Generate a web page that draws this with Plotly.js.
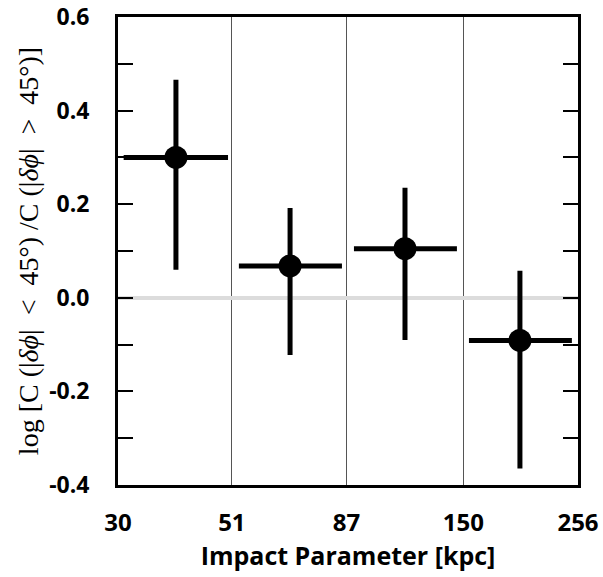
<!DOCTYPE html>
<html><head><meta charset="utf-8">
<script src="https://cdn.plot.ly/plotly-3.0.1.min.js"></script>
<style>body{margin:0;padding:0;background:#fff}</style>
</head><body>
<div id="chart" style="width:603px;height:577px"></div>
<script>
// Data
const impactParam = [39.3, 66.9, 114.3, 195.3];
const binLow = [30.8, 52.7, 90.1, 154.0];
const binHigh = [50.1, 85.2, 145.6, 248.8];
const logRatio = [0.300, 0.068, 0.105, -0.091];
const errUpper = [0.466, 0.192, 0.235, 0.058];
const errLower = [0.060, -0.122, -0.090, -0.365];
const xTickVals = [30, 51, 87, 150, 256];
const xTickText = ['30', '51', '87', '150', '256'];
const yTickVals = [-0.4, -0.2, 0.0, 0.2, 0.4, 0.6];
const yTickText = ['-0.4', '-0.2', '0.0', '0.2', '0.4', '0.6'];

const trace = {
  x: impactParam, y: logRatio, type: 'scatter', mode: 'markers',
  marker: {color: '#000', size: 23},
  error_x: {type: 'data', symmetric: false,
    array: impactParam.map((v, i) => binHigh[i] - v),
    arrayminus: impactParam.map((v, i) => v - binLow[i]),
    color: '#000', thickness: 5, width: 0},
  error_y: {type: 'data', symmetric: false,
    array: logRatio.map((v, i) => errUpper[i] - v),
    arrayminus: logRatio.map((v, i) => v - errLower[i]),
    color: '#000', thickness: 5, width: 0},
  hoverinfo: 'none'
};

const layout = {
  width: 603, height: 577,
  margin: {l: 118, r: 25, t: 17, b: 92},
  paper_bgcolor: '#fff', plot_bgcolor: '#fff',
  showlegend: false,
  font: {family: 'Open Sans, sans-serif', color: '#000'},
  xaxis: {
    type: 'log', range: [Math.log10(30), Math.log10(256)],
    tickmode: 'array', tickvals: xTickVals, ticktext: xTickText,
    ticks: '', showgrid: true, gridcolor: '#555', gridwidth: 1,
    showline: true, linecolor: '#000', linewidth: 3, mirror: true,
    zeroline: false,
    tickfont: {family: 'Open Sans', size: 24, color: '#000', weight: 'bold'},
    ticklabelstandoff: 14,
    title: {text: 'Impact Parameter [kpc]', standoff: 9,
      font: {family: 'Open Sans', size: 25, color: '#000', weight: 'bold'}}
  },
  yaxis: {
    range: [-0.4, 0.6],
    tickmode: 'array', tickvals: yTickVals, ticktext: yTickText,
    ticks: 'inside', ticklen: 15, tickwidth: 2, tickcolor: '#000',
    minor: {tickmode: 'array', tickvals: [-0.3, -0.1, 0.1, 0.3, 0.5], ticks: 'inside', ticklen: 15, tickwidth: 2, tickcolor: '#000', showgrid: false},
    showgrid: false,
    showline: true, linecolor: '#000', linewidth: 3, mirror: 'ticks',
    zeroline: true, zerolinecolor: '#dcdcdc', zerolinewidth: 4,
    tickfont: {family: 'Open Sans', size: 23, color: '#000', weight: 'bold'},
    ticklabelstandoff: 21,
    title: {text: 'log [C (|<i>δϕ</i>|&#160; &lt; &#160;45°) /C (|<i>δϕ</i>|&#160; &gt; &#160;45°)]', standoff: 3,
      font: {family: 'Liberation Serif, DejaVu Serif, serif', size: 28, color: '#000'}}
  }
};

Plotly.newPlot('chart', [trace], layout, {displayModeBar: false, staticPlot: true});
</script>
</body></html>
